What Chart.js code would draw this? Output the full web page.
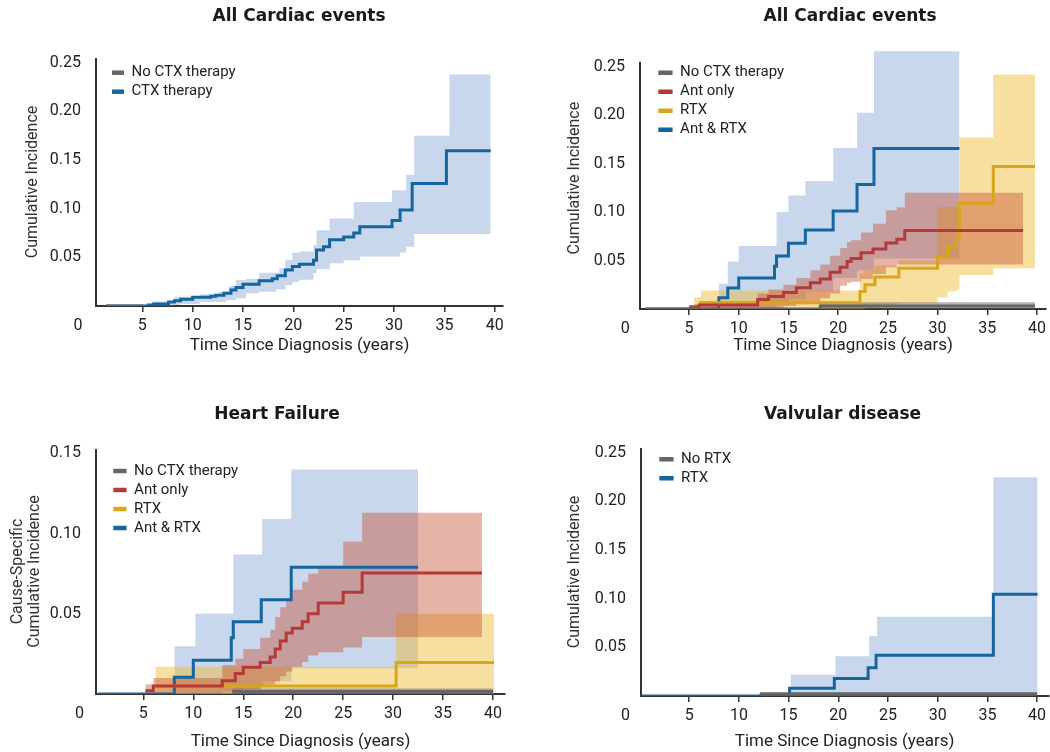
<!DOCTYPE html>
<html lang="en">
<head>
<meta charset="utf-8">
<title>Cumulative incidence of cardiac events</title>
<script src="https://cdn.jsdelivr.net/npm/chart.js@4.4.1/dist/chart.umd.min.js"></script>
<style>
  html, body { margin: 0; background: #fff; }
  .panel { position: absolute; }
</style>
</head>
<body>
<canvas id="chartA" class="panel" style="left:0;top:0" width="525" height="376"></canvas>
<canvas id="chartB" class="panel" style="left:525px;top:0" width="525" height="376"></canvas>
<canvas id="chartC" class="panel" style="left:0;top:376px" width="525" height="376"></canvas>
<canvas id="chartD" class="panel" style="left:525px;top:376px" width="525" height="376"></canvas>
<script>
// tick values
const xTicks = [5, 10, 15, 20, 25, 30, 35, 40];
const yTicks = [0.05, 0.10, 0.15, 0.20, 0.25];
const yTicksHF = [0.05, 0.10, 0.15];

// A: all cardiac events, CTX therapy vs none
const aNoneT = [1.4, 5.1];
const aNoneV = [0, 0];
const aCtxT = [1.4, 5.6, 6.1, 7.6, 8.2, 8.8, 10.0, 11.8, 12.3, 13.1, 13.8, 14.3, 15.0, 16.6, 17.9, 18.4, 19.2, 19.9, 20.6, 22.0, 22.3, 23.0, 23.6, 25.0, 26.0, 26.6, 29.8, 30.6, 31.8, 35.2, 39.6];
const aCtxV = [0, 0.001, 0.002, 0.004, 0.0055, 0.007, 0.009, 0.010, 0.011, 0.013, 0.0165, 0.019, 0.0223, 0.026, 0.028, 0.031, 0.037, 0.0405, 0.043, 0.047, 0.0575, 0.061, 0.068, 0.071, 0.075, 0.0815, 0.088, 0.0986, 0.126, 0.1596, 0.1596];
const aBandT = [5.1, 6.1, 8.2, 8.7, 10.7, 12.6, 13.3, 13.6, 14.3, 15.3, 16.6, 18.3, 18.6, 19.2, 19.9, 20.6, 22.0, 22.3, 23.6, 25.0, 26.0, 26.6, 29.8, 30.6, 31.2, 32.0, 35.5, 39.6];
const aBandLo = [0, 0, 0.001, 0.002, 0.004, 0.004, 0.006, 0.006, 0.008, 0.013, 0.0147, 0.017, 0.017, 0.0216, 0.025, 0.027, 0.034, 0.038, 0.044, 0.047, 0.047, 0.051, 0.051, 0.055, 0.061, 0.074, 0.074, 0.074];
const aBandHi = [0.001, 0.0045, 0.0096, 0.0096, 0.012, 0.0147, 0.0147, 0.0206, 0.0267, 0.028, 0.0343, 0.0343, 0.0388, 0.0473, 0.0548, 0.056, 0.0628, 0.078, 0.090, 0.090, 0.107, 0.107, 0.119, 0.119, 0.135, 0.175, 0.238, 0.238];

// B: all cardiac events by treatment
const bNoneT = [0.6, 18.2, 39.8];
const bNoneV = [0, 0.003, 0.003];
const bNoneLo = [0, 0, 0];
const bNoneHi = [0.001, 0.007, 0.007];
const bAntT = [5.0, 6.0, 11.9, 13.0, 14.5, 15.8, 17.2, 18.2, 19.2, 20.2, 20.9, 21.3, 22.3, 23.5, 24.8, 25.9, 26.7, 38.6];
const bAntV = [0.002, 0.004, 0.0097, 0.013, 0.017, 0.022, 0.027, 0.031, 0.038, 0.043, 0.049, 0.052, 0.058, 0.062, 0.068, 0.072, 0.081, 0.081];
const bAntLo = [0, 0, 0, 0.001, 0.003, 0.005, 0.008, 0.011, 0.016, 0.024, 0.027, 0.028, 0.031, 0.036, 0.043, 0.046, 0.046, 0.046];
const bAntHi = [0.004, 0.008, 0.016, 0.02, 0.025, 0.032, 0.04, 0.046, 0.055, 0.063, 0.069, 0.071, 0.079, 0.088, 0.102, 0.105, 0.12, 0.12];
const bRtxT = [5.5, 6.2, 22.2, 22.7, 23.7, 26.1, 30.0, 31.0, 31.9, 32.2, 35.6, 39.8];
const bRtxV = [0.003, 0.0065, 0.018, 0.025, 0.033, 0.042, 0.054, 0.064, 0.075, 0.109, 0.147, 0.147];
const bRtxLo = [0, 0, 0, 0.001, 0.003, 0.006, 0.012, 0.018, 0.02, 0.035, 0.042, 0.042];
const bRtxHi = [0.012, 0.019, 0.037, 0.04, 0.045, 0.05, 0.105, 0.105, 0.105, 0.177, 0.242, 0.242];
const bBothT = [0.6, 8.0, 8.9, 10.0, 13.6, 13.8, 15.0, 16.7, 19.5, 21.9, 23.6, 32.2];
const bBothV = [0, 0.0115, 0.0217, 0.032, 0.044, 0.0548, 0.0678, 0.0814, 0.101, 0.1285, 0.1657, 0.1657];
const bBothBandT = [8.0, 8.9, 10.0, 13.6, 13.8, 15.0, 16.7, 19.5, 21.9, 23.6, 32.2];
const bBothLo = [0, 0, 0, 0, 0.004, 0.01, 0.018, 0.032, 0.04, 0.052, 0.052];
const bBothHi = [0.026, 0.049, 0.065, 0.065, 0.100, 0.117, 0.132, 0.166, 0.2026, 0.266, 0.266];

// C: heart failure
const cNoneT = [13.9, 40.0];
const cNoneV = [0.0015, 0.0015];
const cNoneLo = [0, 0];
const cNoneHi = [0.0035, 0.0035];
const cAntT = [5.2, 6.0, 12.9, 14.2, 15.0, 16.7, 17.7, 18.2, 18.7, 19.3, 19.9, 20.9, 21.5, 22.5, 25.0, 26.9, 38.9];
const cAntV = [0.002, 0.005, 0.0083, 0.0128, 0.0166, 0.0197, 0.023, 0.028, 0.033, 0.038, 0.041, 0.045, 0.050, 0.0567, 0.0634, 0.0754, 0.0754];
const cAntLo = [0, 0, 0.001, 0.002, 0.003, 0.005, 0.006, 0.008, 0.011, 0.014, 0.017, 0.02, 0.024, 0.026, 0.029, 0.0356, 0.0356];
const cAntHi = [0.006, 0.01, 0.018, 0.022, 0.028, 0.035, 0.04, 0.048, 0.054, 0.059, 0.065, 0.07, 0.075, 0.08, 0.095, 0.113, 0.113];
const cRtxT = [6.2, 30.3, 40.1];
const cRtxV = [0.005, 0.0197, 0.0197];
const cRtxLo = [0, 0, 0];
const cRtxHi = [0.017, 0.05, 0.05];
const cBothT = [0.5, 8.1, 10.0, 13.8, 14.0, 16.8, 19.8, 32.5];
const cBothV = [0, 0.0104, 0.021, 0.035, 0.045, 0.0588, 0.079, 0.079];
const cBothBandT = [8.1, 10.2, 14.0, 16.9, 19.8, 32.5];
const cBothLo = [0, 0, 0.003, 0.008, 0.016, 0.016];
const cBothHi = [0.0298, 0.05, 0.087, 0.109, 0.140, 0.140];

// D: valvular disease
const dNoneT = [12.1, 40.0];
const dNoneV = [0.002, 0.002];
const dNoneLo = [0, 0];
const dNoneHi = [0.004, 0.004];
const dRtxT = [0.2, 15.1, 19.6, 23.0, 23.8, 35.6, 40.05];
const dRtxV = [0, 0.0079, 0.018, 0.029, 0.042, 0.1045, 0.1045];
const dRtxBandT = [15.2, 19.7, 23.1, 23.9, 35.6, 40.05];
const dRtxLo = [0, 0, 0, 0, 0, 0];
const dRtxHi = [0.0218, 0.041, 0.0618, 0.0816, 0.225, 0.225];

const GREY = '#666666', RED = '#b5393b', GOLD = '#d8a51b', BLUE = '#15659f';
const GREY_BAND = 'rgba(90, 90, 90, 0.45)';
const RED_BAND = 'rgba(195, 75, 45, 0.42)';
const GOLD_BAND = 'rgba(238, 185, 45, 0.45)';
const BLUE_BAND = 'rgba(110, 150, 205, 0.38)';

Chart.defaults.font.family = 'Roboto';

function points(t, v) {
    return t.map((x, i) => ({ x: x, y: v[i] }));
}

function stepLine(label, color, t, v) {
    return {
        label: label,
        data: points(t, v),
        borderColor: color,
        borderWidth: 3,
        stepped: true,
        pointRadius: 0,
        pointHoverRadius: 0,
        pointBorderColor: color,
        pointBackgroundColor: color,
        pointBorderWidth: 4.5,
        fill: false
    };
}

// confidence band: upper line filled down to the lower one
function band(color, t, lo, hi) {
    const common = { band: true, borderColor: 'transparent', borderWidth: 0, stepped: true, pointRadius: 0, pointHoverRadius: 0 };
    return [
        Object.assign({}, common, { label: 'upper', data: points(t, hi), backgroundColor: color, fill: '+1' }),
        Object.assign({}, common, { label: 'lower', data: points(t, lo), fill: false })
    ];
}

// y axis line (may stop below the top of the plot), panel title and the corner "0"
const panelDecor = {
    id: 'panelDecor',
    beforeDatasetsDraw(chart, args, o) {
        const { ctx, chartArea } = chart;
        ctx.save();
        ctx.strokeStyle = '#333';
        ctx.lineWidth = 2;
        ctx.beginPath();
        ctx.moveTo(chartArea.left, chartArea.bottom + 1);
        ctx.lineTo(chartArea.left, chart.scales.y.getPixelForValue(o.axisTop));
        ctx.stroke();
        ctx.restore();
    },
    afterDraw(chart, args, o) {
        const { ctx } = chart;
        const x = chart.scales.x;
        ctx.save();
        ctx.fillStyle = '#1a1a1a';
        ctx.textAlign = 'center';
        ctx.textBaseline = 'middle';
        ctx.font = 'bold 17px "DejaVu Sans"';
        ctx.fillText(o.title, o.titleX, o.titleY);
        ctx.font = '16px Roboto';
        ctx.fillStyle = '#222';
        ctx.fillText('0', x.getPixelForValue(0) - 14, x.top + 19.5);
        ctx.restore();
    }
};

function panel(id, p) {
    return new Chart(document.getElementById(id), {
        type: 'line',
        data: { datasets: p.datasets },
        options: {
            responsive: false,
            animation: false,
            events: [],
            layout: { padding: p.padding },
            scales: {
                x: {
                    type: 'linear',
                    min: p.xMin,
                    max: p.xMax,
                    afterBuildTicks: s => { s.ticks = xTicks.map(v => ({ value: v })); },
                    afterFit: s => { s.height = p.xHeight; },
                    grid: { display: true, drawOnChartArea: false, drawTicks: true, tickLength: 6, color: '#333', lineWidth: 1.5 },
                    border: { display: true, color: '#333', width: 2 },
                    ticks: { padding: 3.9, color: '#222', font: { size: 16 }, maxRotation: 0, autoSkip: false },
                    title: {
                        display: true,
                        text: 'Time Since Diagnosis (years)',
                        color: '#222',
                        font: { size: 17 },
                        padding: { top: 0, bottom: p.xTitlePad }
                    }
                },
                y: {
                    type: 'linear',
                    min: 0,
                    max: p.yMax,
                    afterBuildTicks: s => { s.ticks = p.yTicks.map(v => ({ value: v })); },
                    afterFit: s => { s.width = p.yWidth; },
                    grid: { display: false },
                    border: { display: false },
                    ticks: { padding: 7, color: '#222', font: { size: 16 }, callback: v => v.toFixed(2) },
                    title: {
                        display: true,
                        text: p.yTitle,
                        color: '#333',
                        font: { size: 16, lineHeight: p.yTitleLine },
                        padding: { top: p.yTitlePad, bottom: 0 }
                    }
                }
            },
            plugins: {
                tooltip: { enabled: false },
                legend: {
                    // the chartArea legend box starts at the canvas top, an empty title pushes it down
                    position: 'chartArea',
                    align: 'start',
                    title: { display: true, text: '', font: { size: p.legendTop, lineHeight: 1 }, padding: 0 },
                    labels: {
                        usePointStyle: true,
                        pointStyle: 'dash',
                        pointStyleWidth: p.legendW,
                        padding: 4,
                        color: '#222',
                        font: { size: 15 },
                        filter: (item, data) => !data.datasets[item.datasetIndex].band
                    }
                },
                panelDecor: { title: p.title, titleX: p.titleX, titleY: p.titleY, axisTop: p.axisTop }
            }
        },
        plugins: [panelDecor]
    });
}

panel('chartA', {
    datasets: [
        stepLine('No CTX therapy', GREY, aNoneT, aNoneV),
        stepLine('CTX therapy', BLUE, aCtxT, aCtxV),
        ...band(BLUE_BAND, aBandT, aBandLo, aBandHi)
    ],
    padding: { left: 0, top: 58, right: 22, bottom: 0 },
    yWidth: 96, xHeight: 70, xMin: 0.4, xMax: 40.82,
    yMax: 0.255, axisTop: 0.255, yTicks: yTicks,
    yTitle: 'Cumulative Incidence', yTitleLine: 1.2, yTitlePad: 23.4, xTitlePad: 19.8,
    title: 'All Cardiac events', titleX: 299, titleY: 17,
    legendTop: 61.2, legendW: 24
});

panel('chartB', {
    datasets: [
        stepLine('No CTX therapy', GREY, bNoneT, bNoneV),
        stepLine('Ant only', RED, bAntT, bAntV),
        stepLine('RTX', GOLD, bRtxT, bRtxV),
        stepLine('Ant & RTX', BLUE, bBothT, bBothV),
        ...band(GREY_BAND, bNoneT, bNoneLo, bNoneHi),
        ...band(RED_BAND, bAntT, bAntLo, bAntHi),
        ...band(GOLD_BAND, bRtxT, bRtxLo, bRtxHi),
        ...band(BLUE_BAND, bBothBandT, bBothLo, bBothHi)
    ],
    padding: { left: 0, top: 47.3, right: 4, bottom: 0 },
    yWidth: 115, xHeight: 67, xMin: 0.07, xMax: 40.9,
    yMax: 0.27, axisTop: 0.255, yTicks: yTicks,
    yTitle: 'Cumulative Incidence', yTitleLine: 1.2, yTitlePad: 40.4, xTitlePad: 19.8,
    title: 'All Cardiac events', titleX: 325, titleY: 17,
    legendTop: 61.2, legendW: 28.6
});

panel('chartC', {
    datasets: [
        stepLine('No CTX therapy', GREY, cNoneT, cNoneV),
        stepLine('Ant only', RED, cAntT, cAntV),
        stepLine('RTX', GOLD, cRtxT, cRtxV),
        stepLine('Ant & RTX', BLUE, cBothT, cBothV),
        ...band(GREY_BAND, cNoneT, cNoneLo, cNoneHi),
        ...band(RED_BAND, cAntT, cAntLo, cAntHi),
        ...band(GOLD_BAND, cRtxT, cRtxLo, cRtxHi),
        ...band(BLUE_BAND, cBothBandT, cBothLo, cBothHi)
    ],
    padding: { left: 0, top: 73, right: 20, bottom: 0 },
    yWidth: 96, xHeight: 58, xMin: 0.26, xMax: 41.2,
    yMax: 0.1527, axisTop: 0.1527, yTicks: yTicksHF,
    yTitle: ['Cause-Specific', 'Cumulative Incidence'], yTitleLine: 1.05, yTitlePad: 9.6, xTitlePad: 0.1,
    title: 'Heart Failure', titleX: 277, titleY: 39,
    legendTop: 83.5, legendW: 26.6
});

panel('chartD', {
    datasets: [
        stepLine('No RTX', GREY, dNoneT, dNoneV),
        stepLine('RTX', BLUE, dRtxT, dRtxV),
        ...band(GREY_BAND, dNoneT, dNoneLo, dNoneHi),
        ...band(BLUE_BAND, dRtxBandT, dRtxLo, dRtxHi)
    ],
    padding: { left: 0, top: 72, right: 1, bottom: 0 },
    yWidth: 116, xHeight: 56, xMin: 0.15, xMax: 41.13,
    yMax: 0.255, axisTop: 0.255, yTicks: yTicks,
    yTitle: 'Cumulative Incidence', yTitleLine: 1.2, yTitlePad: 40.4, xTitlePad: 0.1,
    title: 'Valvular disease', titleX: 317.5, titleY: 39,
    legendTop: 71.8, legendW: 28.6
});
</script>
</body>
</html>
